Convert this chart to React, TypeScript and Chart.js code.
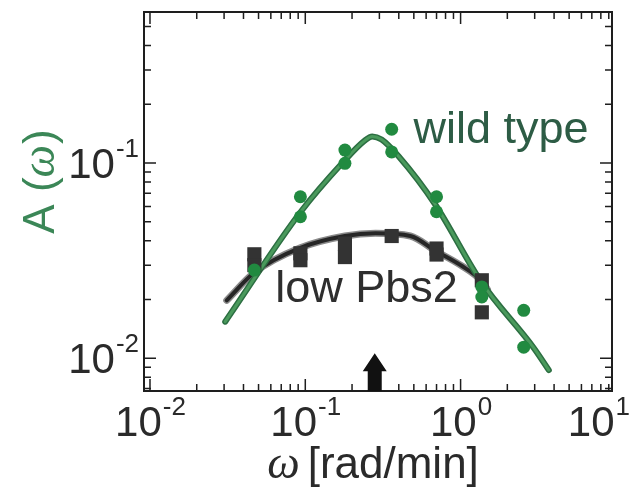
import React, { useEffect, useRef } from "react";
import { Chart, registerables } from "chart.js";

Chart.register(...registerables);

// ---- axis ranges (log-log) ----
const X_MIN = 0.00915;
const X_MAX = 9.44;
const Y_MIN = 0.0068;
const Y_MAX = 0.594;

const X_DECADES = [0.01, 0.1, 1, 10];
const X_DECADE_EXPONENTS = ["-2", "-1", "0", "1"];
const Y_DECADES = [0.01, 0.1];
const Y_DECADE_EXPONENTS = ["-2", "-1"];

// ---- wild type measurements (green circles) ----
const WT_OMEGA = [0.047, 0.093, 0.093, 0.18, 0.18, 0.36, 0.36, 0.70, 0.70, 1.37, 1.37, 2.55, 2.55];
const WT_AMP = [0.0283, 0.0672, 0.0531, 0.1166, 0.0997, 0.149, 0.114, 0.0672, 0.0563, 0.0232, 0.0206, 0.0176, 0.0114];

// ---- low Pbs2 measurements (black squares) ----
const LP_OMEGA = [0.047, 0.047, 0.093, 0.093, 0.18, 0.18, 0.36, 0.70, 0.70, 1.37, 1.37];
const LP_AMP = [0.0341, 0.030, 0.0345, 0.0318, 0.0387, 0.033, 0.0423, 0.0365, 0.034, 0.0251, 0.0172];

// ---- fitted curves ----
const WT_FIT_OMEGA = [0.0305, 0.093, 0.176, 0.24, 0.27, 0.31, 0.4, 0.69, 1.35, 2.96, 3.7];
const WT_FIT_AMP = [0.0154, 0.056, 0.1015, 0.13, 0.137, 0.132, 0.108, 0.061, 0.0248, 0.0113, 0.0087];
const LP_FIT_OMEGA = [0.0312, 0.047, 0.093, 0.18, 0.283, 0.475, 0.69, 1.0, 1.35, 1.49];
const LP_FIT_AMP = [0.0198, 0.0275, 0.0368, 0.0423, 0.0437, 0.0423, 0.0355, 0.030, 0.0251, 0.0225];

// ---- annotations ----
const ARROW_OMEGA = 0.28;
const ARROW_TIP_AMP = 0.0106;
const WT_LABEL = "wild type";
const WT_LABEL_OMEGA = 0.498;
const WT_LABEL_AMP = 0.1266;
const LP_LABEL = "low Pbs2";
const LP_LABEL_OMEGA = 0.064;
const LP_LABEL_AMP = 0.01936;
const X_TITLE_SYMBOL = "ω";
const X_TITLE_UNIT = "[rad/min]";
const Y_TITLE_PRE = "A (";
const Y_TITLE_SYMBOL = "ω";
const Y_TITLE_POST = ")";
const Y_TITLE_CENTER_AMP = 0.08;

const SANS = '"Liberation Sans", Arial, Helvetica, sans-serif';
const SERIF = '"Liberation Serif", "DejaVu Serif", serif';

const zip = (xs: number[], ys: number[]) => xs.map((x, i) => ({ x, y: ys[i] }));

function minorValues(min: number, max: number): number[] {
  const out: number[] = [];
  for (let d = -4; d <= 2; d++) {
    for (let m = 1; m <= 9; m++) {
      const v = m * Math.pow(10, d);
      if (v >= min * 0.9999 && v <= max * 1.0001) out.push(v);
    }
  }
  return out;
}

const decorPlugin = {
  id: "decor",
  afterDatasetsDraw(chart: any) {
    const ctx: CanvasRenderingContext2D = chart.ctx;
    const xs = chart.scales.x;
    const ys = chart.scales.y;
    const { left, right, top, bottom } = chart.chartArea;
    ctx.save();

    // frame
    ctx.strokeStyle = "#1e1e1e";
    ctx.lineWidth = 2;
    ctx.strokeRect(left, top, right - left, bottom - top);

    // ticks (inward, all four sides)
    ctx.lineWidth = 1.5;
    const isDecade = (v: number) => Math.abs(Math.log10(v) - Math.round(Math.log10(v))) < 1e-6;
    for (const v of minorValues(X_MIN, X_MAX)) {
      const px = xs.getPixelForValue(v);
      const len = isDecade(v) ? 12 : 7;
      ctx.beginPath();
      ctx.moveTo(px, bottom);
      ctx.lineTo(px, bottom - len);
      ctx.moveTo(px, top);
      ctx.lineTo(px, top + len);
      ctx.stroke();
    }
    for (const v of minorValues(Y_MIN, Y_MAX)) {
      const py = ys.getPixelForValue(v);
      const len = isDecade(v) ? 12 : 7;
      ctx.beginPath();
      ctx.moveTo(left, py);
      ctx.lineTo(left + len, py);
      ctx.moveTo(right, py);
      ctx.lineTo(right - len, py);
      ctx.stroke();
    }

    // x tick labels
    ctx.fillStyle = "#2a2a2a";
    ctx.textBaseline = "alphabetic";
    ctx.textAlign = "left";
    X_DECADES.forEach((v, i) => {
      const px = xs.getPixelForValue(v);
      ctx.font = `42px ${SANS}`;
      const wb = ctx.measureText("10").width;
      ctx.font = `26px ${SANS}`;
      const we = ctx.measureText(X_DECADE_EXPONENTS[i]).width;
      let x0 = px - (wb + we) / 2;
      if (x0 + wb + we > 629) x0 = 629 - wb - we;
      ctx.font = `42px ${SANS}`;
      ctx.fillText("10", x0, bottom + 45);
      ctx.font = `26px ${SANS}`;
      ctx.fillText(X_DECADE_EXPONENTS[i], x0 + wb + 1, bottom + 24);
    });

    // y tick labels
    Y_DECADES.forEach((v, i) => {
      const py = ys.getPixelForValue(v);
      ctx.font = `26px ${SANS}`;
      const we = ctx.measureText(Y_DECADE_EXPONENTS[i]).width;
      ctx.font = `42px ${SANS}`;
      const wb = ctx.measureText("10").width;
      const xEnd = left - 5;
      ctx.fillText("10", xEnd - we - wb - 1, py + 15);
      ctx.font = `26px ${SANS}`;
      ctx.fillText(Y_DECADE_EXPONENTS[i], xEnd - we, py - 6);
    });

    // x title
    {
      ctx.font = `italic 46px ${SERIF}`;
      const w1 = ctx.measureText(X_TITLE_SYMBOL).width;
      ctx.font = `44px ${SANS}`;
      const w2 = ctx.measureText(X_TITLE_UNIT).width;
      const gap = 8;
      const cx = (left + right) / 2 - 5;
      const x0 = cx - (w1 + gap + w2) / 2;
      const by = bottom + 87;
      ctx.fillStyle = "#2a2a2a";
      ctx.font = `italic 46px ${SERIF}`;
      ctx.fillText(X_TITLE_SYMBOL, x0, by);
      ctx.font = `44px ${SANS}`;
      ctx.fillText(X_TITLE_UNIT, x0 + w1 + gap, by);
    }

    // y title (rotated)
    {
      ctx.save();
      const cy = ys.getPixelForValue(Y_TITLE_CENTER_AMP);
      ctx.translate(54, cy);
      ctx.rotate(-Math.PI / 2);
      ctx.fillStyle = "#3b8757";
      ctx.font = `44px ${SANS}`;
      const a = ctx.measureText(Y_TITLE_PRE).width;
      const c = ctx.measureText(Y_TITLE_POST).width;
      ctx.font = `italic 46px ${SERIF}`;
      const b = ctx.measureText(Y_TITLE_SYMBOL).width;
      const x0 = -(a + b + c) / 2;
      ctx.font = `44px ${SANS}`;
      ctx.fillText(Y_TITLE_PRE, x0, 0);
      ctx.font = `italic 46px ${SERIF}`;
      ctx.fillText(Y_TITLE_SYMBOL, x0 + a, 0);
      ctx.font = `44px ${SANS}`;
      ctx.fillText(Y_TITLE_POST, x0 + a + b + 1, 0);
      ctx.restore();
    }

    // series labels
    ctx.font = `45px ${SANS}`;
    ctx.fillStyle = "#2d5c45";
    ctx.fillText(WT_LABEL, xs.getPixelForValue(WT_LABEL_OMEGA), ys.getPixelForValue(WT_LABEL_AMP));
    ctx.fillStyle = "#2e2e2e";
    ctx.fillText(LP_LABEL, xs.getPixelForValue(LP_LABEL_OMEGA), ys.getPixelForValue(LP_LABEL_AMP));

    // arrow
    {
      const ax = xs.getPixelForValue(ARROW_OMEGA);
      const tip = ys.getPixelForValue(ARROW_TIP_AMP);
      const headH = 18;
      const headW = 12;
      const shaftW = 7;
      ctx.fillStyle = "#111111";
      ctx.beginPath();
      ctx.moveTo(ax, tip);
      ctx.lineTo(ax + headW, tip + headH);
      ctx.lineTo(ax + shaftW, tip + headH);
      ctx.lineTo(ax + shaftW, bottom);
      ctx.lineTo(ax - shaftW, bottom);
      ctx.lineTo(ax - shaftW, tip + headH);
      ctx.lineTo(ax - headW, tip + headH);
      ctx.closePath();
      ctx.fill();
    }

    ctx.restore();
  },
};

export default function App() {
  const canvasRef = useRef<HTMLCanvasElement | null>(null);

  useEffect(() => {
    document.body.style.margin = "0";
    const canvas = canvasRef.current;
    if (!canvas) return;
    const lineBase = {
      type: "line" as const,
      pointRadius: 0,
      fill: false,
      cubicInterpolationMode: "monotone" as const,
      borderCapStyle: "round" as const,
      borderJoinStyle: "round" as const,
    };
    const chart = new Chart(canvas, {
      type: "scatter",
      data: {
        datasets: [
          {
            label: "wild type data",
            data: zip(WT_OMEGA, WT_AMP),
            pointStyle: "circle",
            pointRadius: 6.5,
            backgroundColor: "#218a40",
            borderColor: "#218a40",
            borderWidth: 0,
            order: 0,
          },
          {
            label: "low Pbs2 data",
            data: zip(LP_OMEGA, LP_AMP),
            pointStyle: "rect",
            pointRadius: 10,
            backgroundColor: "#333333",
            borderColor: "#333333",
            borderWidth: 0,
            order: 1,
          },
          {
            ...lineBase,
            label: "wild type fit",
            data: zip(WT_FIT_OMEGA, WT_FIT_AMP),
            borderColor: "#4a9a5c",
            borderWidth: 3,
            order: 2,
          },
          {
            ...lineBase,
            label: "wild type fit outline",
            data: zip(WT_FIT_OMEGA, WT_FIT_AMP),
            borderColor: "#2c6e42",
            borderWidth: 6,
            order: 3,
          },
          {
            ...lineBase,
            label: "low Pbs2 fit",
            data: zip(LP_FIT_OMEGA, LP_FIT_AMP),
            borderColor: "#262626",
            borderWidth: 4,
            order: 4,
          },
          {
            ...lineBase,
            label: "low Pbs2 fit halo",
            data: zip(LP_FIT_OMEGA, LP_FIT_AMP),
            borderColor: "#8a8a8a",
            borderWidth: 7,
            order: 5,
          },
        ],
      },
      options: {
        animation: false,
        responsive: false,
        maintainAspectRatio: false,
        layout: { padding: { left: 144, top: 12, right: 18, bottom: 100 } },
        plugins: { legend: { display: false }, tooltip: { enabled: false } },
        scales: {
          x: { type: "logarithmic", min: X_MIN, max: X_MAX, display: false },
          y: { type: "logarithmic", min: Y_MIN, max: Y_MAX, display: false },
        },
      },
      plugins: [decorPlugin],
    });
    return () => chart.destroy();
  }, []);

  return (
    <div style={{ width: 630, height: 491, background: "#ffffff" }}>
      <canvas ref={canvasRef} width={630} height={491} />
    </div>
  );
}
